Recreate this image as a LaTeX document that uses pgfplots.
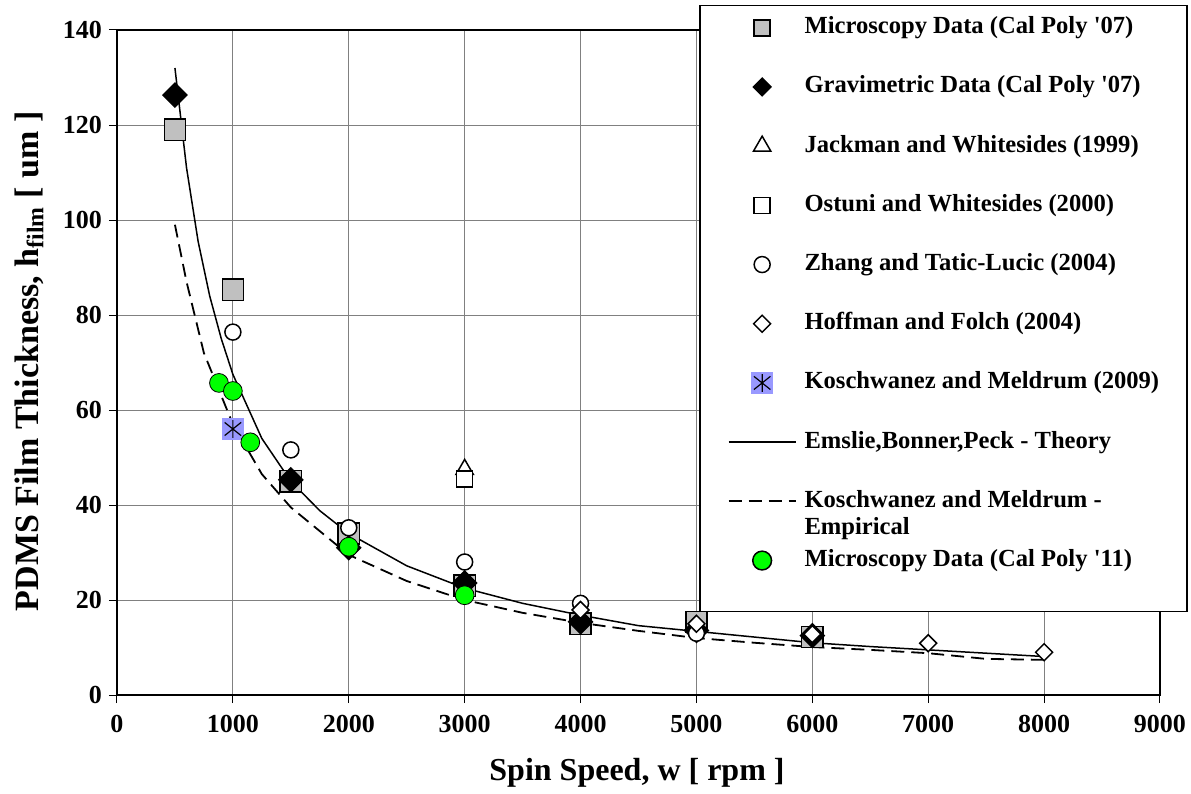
\documentclass[border=0pt]{standalone}
\usepackage{fontspec}
\setmainfont{Liberation Serif}
\usepackage{pgfplots}
\pgfplotsset{compat=1.18}
\definecolor{msgray}{HTML}{C0C0C0}
\definecolor{kmblue}{HTML}{9999FF}
\definecolor{green11}{HTML}{00FF00}
\definecolor{gridgray}{HTML}{808080}

% blue square with an asterisk on it
\pgfdeclareplotmark{sqast}{%
  \pgfpathrectangle{\pgfqpoint{-\pgfplotmarksize}{-\pgfplotmarksize}}{\pgfqpoint{2\pgfplotmarksize}{2\pgfplotmarksize}}%
  \pgfsetfillcolor{kmblue}\pgfusepathqfill
  \pgfsetstrokecolor{black}%
  \pgfpathmoveto{\pgfqpoint{0pt}{0.8\pgfplotmarksize}}\pgfpathlineto{\pgfqpoint{0pt}{-0.8\pgfplotmarksize}}%
  \pgfpathmoveto{\pgfqpoint{-0.75\pgfplotmarksize}{0.6\pgfplotmarksize}}\pgfpathlineto{\pgfqpoint{0.75\pgfplotmarksize}{-0.6\pgfplotmarksize}}%
  \pgfpathmoveto{\pgfqpoint{-0.75\pgfplotmarksize}{-0.6\pgfplotmarksize}}\pgfpathlineto{\pgfqpoint{0.75\pgfplotmarksize}{0.6\pgfplotmarksize}}%
  \pgfusepathqstroke}

\tikzset{le/.style={text height=9pt, text depth=3pt, inner sep=0pt}}
\newcommand{\q}{\textquotesingle}

\begin{document}
\begin{tikzpicture}
\begin{axis}[
  scale only axis, width=521.5pt, height=332.5pt,
  xmin=0, xmax=9000, ymin=0, ymax=140,
  xtick={0,1000,...,9000}, ytick={0,20,...,140},
  grid=major, major grid style={gridgray, line width=0.5pt},
  axis line style={line width=1pt},
  tick align=outside, tick pos=left, major tick length=4pt,
  tick style={black, line width=0.5pt},
  /pgf/number format/assume math mode=true,
  /pgf/number format/1000 sep={},
  ticklabel style={font=\fontsize{13}{15}\selectfont\bfseries},
  xticklabel style={yshift=-2.5pt},
  xlabel={Spin Speed, w [ rpm ]},
  ylabel={PDMS Film Thickness, h\textsubscript{film} [ um ]},
  every axis x label/.style={at={(rel axis cs:0.4986,-0.1173)}, anchor=center,
    font=\fontsize{16}{19}\selectfont\bfseries},
  every axis y label/.style={at={(rel axis cs:-0.0844,0.502)}, rotate=90, anchor=center,
    font=\fontsize{17}{20}\selectfont\bfseries},
  legend style={at={(rel axis cs:1.0268,1.0376)}, anchor=north east,
    draw=black, line width=0.75pt, fill=white,
    inner xsep=14pt, inner ysep=5pt, row sep=17.6pt, column sep=4pt,
    font=\fontsize{12.3}{13.8}\selectfont\bfseries},
  legend cell align=left,
  legend image code/.code={\draw[mark repeat=2,mark phase=2,#1] plot coordinates {(0pt,0pt) (16.75pt,0pt) (33.5pt,0pt)};},
]
\coordinate (O) at (rel axis cs:0,0);

\addplot[only marks, mark=square*, mark size=5.3pt, line width=0.75pt,
  mark options={fill=msgray, draw=black}, forget plot]
  coordinates {(500,119) (1000,85.3) (1500,45) (2000,34) (3000,23) (4000,15) (5000,15.4) (6000,12.2)};
\addlegendimage{only marks, mark=square*, mark size=4pt, line width=0.75pt, mark options={fill=msgray, draw=black}}
\addlegendentry[le]{Microscopy Data (Cal Poly \q07)}

\addplot[only marks, mark=square*, mark size=4.2pt, line width=0.75pt,
  mark options={rotate=45, fill=black, draw=black}, forget plot]
  coordinates {(500,126.3) (1500,45.3) (2000,31) (3000,23.6) (4000,15.4) (5000,13.6) (6000,12.5)};
\addlegendimage{only marks, mark=square*, mark size=3.1pt, line width=0.75pt, mark options={rotate=45, fill=black, draw=black}}
\addlegendentry[le]{Gravimetric Data (Cal Poly \q07)}

\addplot[only marks, mark=triangle*, mark size=5pt, line width=0.75pt,
  mark options={fill=white, draw=black}]
  coordinates {(3000,47.5)};
\addlegendentry[le]{Jackman and Whitesides (1999)}

\addplot[only marks, mark=square*, mark size=4pt, line width=0.75pt,
  mark options={fill=white, draw=black}]
  coordinates {(3000,45.5)};
\addlegendentry[le]{Ostuni and Whitesides (2000)}

\addplot[only marks, mark=*, mark size=4pt, line width=0.75pt,
  mark options={fill=white, draw=black}]
  coordinates {(1000,76.4) (1500,51.6) (2000,35.2) (3000,28) (4000,19.3) (5000,13)};
\addlegendentry[le]{Zhang and Tatic-Lucic (2004)}

\addplot[only marks, mark=square*, mark size=3pt, line width=0.75pt,
  mark options={rotate=45, fill=white, draw=black}]
  coordinates {(4000,17.9) (5000,15) (6000,12.8) (7000,10.9) (8000,9)};
\addlegendentry[le]{Hoffman and Folch (2004)}

\addplot[only marks, mark=sqast, mark size=5.5pt, line width=0.6pt]
  coordinates {(1000,56)};
\addlegendentry[le]{Koschwanez and Meldrum (2009)}

\addplot[black, line width=0.75pt, no marks]
  coordinates {(500,132) (600,111) (700,95.5) (800,84) (900,75) (1000,67.5) (1250,54) (1500,45)
    (1750,38.8) (2000,34) (2500,27.2) (3000,22.5) (3500,19.3) (4000,16.8) (4500,14.6) (5000,13.4)
    (5500,12.2) (6000,11) (6500,10.2) (7000,9.5) (7500,8.8) (8000,8.1)};
\addlegendentry[le]{Emslie,Bonner,Peck - Theory}

\addplot[black, line width=0.9pt, no marks, dash pattern=on 6.5pt off 3.5pt]
  coordinates {(500,99) (600,87) (750,72) (1000,57) (1250,46.5) (1500,39.5) (2000,29.5) (2500,24)
    (3000,20) (3500,17.3) (4000,15.2) (4500,13.5) (5000,12) (5500,11) (6000,10.1) (6500,9.5)
    (7000,8.8) (7500,7.6) (8000,7.4)};
\addlegendentry[le]{\begin{tabular}[t]{@{}l@{}}Koschwanez and Meldrum -\\[-0.3pt]Empirical\end{tabular}}

\addplot[only marks, mark=*, mark size=4.7pt,
  mark options={fill=green11, draw=none}]
  coordinates {(880,65.7) (1000,64) (1150,53.2) (2000,31.2) (3000,21)};
\addlegendentry[le, text depth=17.5pt, yshift=-7.25pt]{Microscopy Data (Cal Poly \q11)}
\end{axis}
\pgfresetboundingbox
\path (O) ++(-58.5pt,-49.5pt) rectangle ++(595.5pt,397pt);
\end{tikzpicture}
\end{document}
